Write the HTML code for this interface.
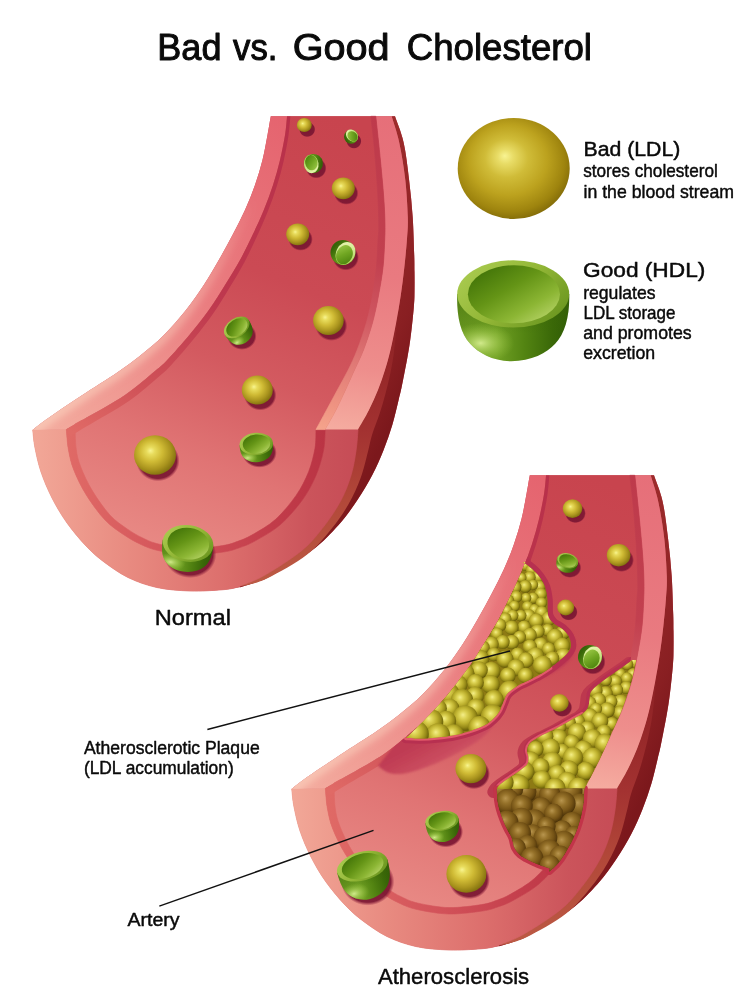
<!DOCTYPE html>
<html><head><meta charset="utf-8"><title>Bad vs. Good Cholesterol</title>
<style>html,body{margin:0;padding:0;background:#fff;}svg{display:block;}</style>
</head><body>
<svg width="749" height="999" viewBox="0 0 749 999">
<defs>
<radialGradient id="ys" cx="0.44" cy="0.43" r="0.64" fx="0.39" fy="0.39">
<stop offset="0" stop-color="#f8f490"/><stop offset="0.15" stop-color="#e8dc5c"/><stop offset="0.42" stop-color="#cfba34"/><stop offset="0.7" stop-color="#aa941e"/><stop offset="0.9" stop-color="#867410"/><stop offset="1" stop-color="#6a5a08"/>
</radialGradient>
<radialGradient id="yl" cx="0.47" cy="0.45" r="0.60" fx="0.42" fy="0.375">
<stop offset="0" stop-color="#f8f392"/><stop offset="0.12" stop-color="#e8dc66"/><stop offset="0.32" stop-color="#d0bc38"/><stop offset="0.58" stop-color="#bca21e"/><stop offset="0.82" stop-color="#9e840e"/><stop offset="1" stop-color="#786206"/>
</radialGradient>
<radialGradient id="yp" cx="0.45" cy="0.42" r="0.60" fx="0.41" fy="0.37">
<stop offset="0" stop-color="#f4ee88"/><stop offset="0.25" stop-color="#dcd252"/><stop offset="0.52" stop-color="#bdb02e"/><stop offset="0.76" stop-color="#968a18"/><stop offset="0.92" stop-color="#70660a"/><stop offset="1" stop-color="#504804"/>
</radialGradient>
<radialGradient id="bs" cx="0.45" cy="0.42" r="0.60" fx="0.41" fy="0.37">
<stop offset="0" stop-color="#b8954e"/><stop offset="0.32" stop-color="#96722a"/><stop offset="0.68" stop-color="#765416"/><stop offset="0.9" stop-color="#583c0c"/><stop offset="1" stop-color="#402a05"/>
</radialGradient>
<radialGradient id="shd" cx="0.5" cy="0.5" r="0.5">
<stop offset="0" stop-color="#74142f" stop-opacity="0.95"/><stop offset="0.86" stop-color="#7c1733" stop-opacity="0.93"/><stop offset="1" stop-color="#8a1a38" stop-opacity="0"/>
</radialGradient>
<linearGradient id="cav" x1="0.12" y1="0.1" x2="0.88" y2="0.9">
<stop offset="0" stop-color="#427408"/><stop offset="0.4" stop-color="#649416"/><stop offset="0.75" stop-color="#8cb634"/><stop offset="1" stop-color="#b2d062"/>
</linearGradient>
<linearGradient id="rim" x1="0" y1="0.2" x2="1" y2="0.8">
<stop offset="0" stop-color="#aacb50"/><stop offset="0.5" stop-color="#92b636"/><stop offset="1" stop-color="#68941e"/>
</linearGradient>
<linearGradient id="body" x1="0" y1="0" x2="1" y2="0">
<stop offset="0" stop-color="#66941e"/><stop offset="0.35" stop-color="#70a024"/><stop offset="0.6" stop-color="#538412"/><stop offset="0.85" stop-color="#3a6808"/><stop offset="1" stop-color="#305c06"/>
</linearGradient>
<radialGradient id="bodyhl" gradientUnits="userSpaceOnUse" cx="-32" cy="32" r="30">
<stop offset="0" stop-color="#d6ee90" stop-opacity="0.95"/><stop offset="0.5" stop-color="#b4d860" stop-opacity="0.5"/><stop offset="1" stop-color="#9cc840" stop-opacity="0"/>
</radialGradient>
<linearGradient id="bodysh" gradientUnits="userSpaceOnUse" x1="0" y1="-5" x2="0" y2="24">
<stop offset="0" stop-color="#3c6808" stop-opacity="0.55"/><stop offset="1" stop-color="#3c6808" stop-opacity="0"/>
</linearGradient>
<radialGradient id="bodyhl3" cx="0.21" cy="0.73" r="0.30">
<stop offset="0" stop-color="#d6ee90" stop-opacity="0.95"/><stop offset="0.5" stop-color="#b4d860" stop-opacity="0.5"/><stop offset="1" stop-color="#9cc840" stop-opacity="0"/>
</radialGradient>
<linearGradient id="bodysh2" x1="0" y1="0" x2="0" y2="0.6">
<stop offset="0" stop-color="#3c6808" stop-opacity="0.5"/><stop offset="1" stop-color="#3c6808" stop-opacity="0"/>
</linearGradient>
<g id="cup">
<path id="cupb" d="M-56,-17 C-56.5,5 -53,22 -43,33 C-35,42 -20,50.4 -2,50.4 C18,50.4 34,42 42,33 C52,22 56.5,5 56,-17 Z" fill="url(#body)"/>
<path d="M-56,-17 C-56.5,5 -53,22 -43,33 C-35,42 -20,50.4 -2,50.4 C18,50.4 34,42 42,33 C52,22 56.5,5 56,-17 Z" fill="url(#bodysh)"/>
<path d="M-56,-17 C-56.5,5 -53,22 -43,33 C-35,42 -20,50.4 -2,50.4 C18,50.4 34,42 42,33 C52,22 56.5,5 56,-17 Z" fill="url(#bodyhl)"/>
<ellipse cx="0" cy="-17" rx="56" ry="33.6" fill="url(#rim)"/>
<ellipse cx="0.7" cy="-16.8" rx="46" ry="29" fill="url(#cav)"/>
</g>
<radialGradient id="bodyhl2" gradientUnits="userSpaceOnUse" cx="-34" cy="36" r="26">
<stop offset="0" stop-color="#d6ee90" stop-opacity="0.9"/><stop offset="0.5" stop-color="#b4d860" stop-opacity="0.45"/><stop offset="1" stop-color="#9cc840" stop-opacity="0"/>
</radialGradient>
<g id="cup2">
<path d="M-56,-8 C-56.5,12 -53,27 -43,36.5 C-35,45 -20,52.5 -2,52.5 C18,52.5 34,45 42,36.5 C52,27 56.5,12 56,-8 Z" fill="url(#body)"/>
<path d="M-56,-8 C-56.5,12 -53,27 -43,36.5 C-35,45 -20,52.5 -2,52.5 C18,52.5 34,45 42,36.5 C52,27 56.5,12 56,-8 Z" fill="url(#bodyhl2)"/>
<ellipse cx="0" cy="-8.5" rx="56" ry="44" fill="url(#rim)"/>
<ellipse cx="1" cy="-10" rx="46.5" ry="36.5" fill="url(#cav)"/>
</g>
<linearGradient id="tbody" x1="0" y1="0" x2="1" y2="0.3">
<stop offset="0" stop-color="#6fa21e"/><stop offset="0.6" stop-color="#5a8f14"/><stop offset="1" stop-color="#356408"/>
</linearGradient>
<linearGradient id="trim" x1="0" y1="0" x2="0.4" y2="1">
<stop offset="0" stop-color="#a4cc4c"/><stop offset="1" stop-color="#e2f2a8"/>
</linearGradient>
<linearGradient id="tcav" x1="0" y1="0" x2="0.9" y2="1">
<stop offset="0" stop-color="#427a08"/><stop offset="0.55" stop-color="#70a622"/><stop offset="1" stop-color="#9ecb4a"/>
</linearGradient>
<g id="tcup">
<circle cx="0" cy="0" r="1" fill="url(#tbody)"/>
<ellipse cx="-0.22" cy="0.02" rx="0.76" ry="0.96" fill="url(#trim)"/>
<ellipse cx="-0.19" cy="-0.11" rx="0.645" ry="0.80" fill="url(#tcav)"/>
</g>
<filter id="blur1" x="-10%" y="-10%" width="120%" height="120%"><feGaussianBlur stdDeviation="1.3"/></filter>
<filter id="blur3" x="-10%" y="-10%" width="120%" height="120%"><feGaussianBlur stdDeviation="3"/></filter>
<linearGradient id="whl" gradientUnits="userSpaceOnUse" x1="0" y1="200" x2="0" y2="430">
<stop offset="0" stop-color="#f8c4b4" stop-opacity="0"/><stop offset="0.5" stop-color="#f8c4b4" stop-opacity="0.45"/><stop offset="1" stop-color="#f9c8b6" stop-opacity="0.85"/>
</linearGradient>
<linearGradient id="flapg" gradientUnits="userSpaceOnUse" x1="470" y1="715" x2="490" y2="752">
<stop offset="0" stop-color="#bf3b53"/><stop offset="0.5" stop-color="#c94a5d"/><stop offset="1" stop-color="#d8666e"/>
</linearGradient>
<linearGradient id="lumen" gradientUnits="userSpaceOnUse" x1="330" y1="116" x2="150" y2="570">
<stop offset="0" stop-color="#c8444e"/><stop offset="0.35" stop-color="#cb4a54"/><stop offset="0.55" stop-color="#d35a60"/><stop offset="0.75" stop-color="#e07474"/><stop offset="1" stop-color="#ea8e88"/>
</linearGradient>
<linearGradient id="lwall" gradientUnits="userSpaceOnUse" x1="280" y1="116" x2="50" y2="430">
<stop offset="0" stop-color="#e5646f"/><stop offset="0.5" stop-color="#ea7d80"/><stop offset="1" stop-color="#f3ab9e"/>
</linearGradient>
<linearGradient id="rwall" gradientUnits="userSpaceOnUse" x1="395" y1="116" x2="340" y2="430">
<stop offset="0" stop-color="#e66f79"/><stop offset="0.5" stop-color="#e97a80"/><stop offset="0.8" stop-color="#ee8e8c"/><stop offset="1" stop-color="#f5aca0"/>
</linearGradient>
<linearGradient id="lchamfer" gradientUnits="userSpaceOnUse" x1="285" y1="116" x2="70" y2="430">
<stop offset="0" stop-color="#b8304a"/><stop offset="0.5" stop-color="#be384e"/><stop offset="0.8" stop-color="#d05258"/><stop offset="1" stop-color="#e06a66"/>
</linearGradient>
<linearGradient id="chamfer" gradientUnits="userSpaceOnUse" x1="380" y1="116" x2="320" y2="430">
<stop offset="0" stop-color="#be3a4b"/><stop offset="0.45" stop-color="#c2404f"/><stop offset="0.62" stop-color="#cf5660"/><stop offset="0.78" stop-color="#e07a76"/><stop offset="0.92" stop-color="#ef9482"/><stop offset="1" stop-color="#f5a48c"/>
</linearGradient>
<linearGradient id="side" gradientUnits="userSpaceOnUse" x1="300" y1="330" x2="410" y2="380">
<stop offset="0" stop-color="#9c2b2b"/><stop offset="0.45" stop-color="#922527"/><stop offset="0.75" stop-color="#891f22"/><stop offset="1" stop-color="#7c181c"/>
</linearGradient>
<linearGradient id="strip" gradientUnits="userSpaceOnUse" x1="0" y1="320" x2="0" y2="585">
<stop offset="0" stop-color="#8e2226"/><stop offset="0.2" stop-color="#962829"/><stop offset="0.42" stop-color="#a33231"/><stop offset="0.68" stop-color="#b24839"/><stop offset="1" stop-color="#bc5a44"/>
</linearGradient>
<linearGradient id="uface" gradientUnits="userSpaceOnUse" x1="32" y1="0" x2="358" y2="0">
<stop offset="0" stop-color="#f2a898"/><stop offset="0.3" stop-color="#e88a80"/><stop offset="0.6" stop-color="#dc6e6c"/><stop offset="0.85" stop-color="#cb545b"/><stop offset="1" stop-color="#c64c56"/>
</linearGradient>
<linearGradient id="band" gradientUnits="userSpaceOnUse" x1="66" y1="0" x2="325" y2="0">
<stop offset="0" stop-color="#e06a66"/><stop offset="0.45" stop-color="#d25259"/><stop offset="0.8" stop-color="#c23c4a"/><stop offset="1" stop-color="#ba3444"/>
</linearGradient>

<clipPath id="lumc"><path d="M287.0,116.3L370.8,116.3C371.4,121.9 373.4,137.7 374.5,150.0 C375.6,162.3 376.8,177.5 377.5,190.0 C378.2,202.5 378.7,216.7 378.8,225.0 C378.9,233.3 378.4,232.9 378.0,240.0 C377.6,247.1 377.3,258.3 376.4,267.5 C375.5,276.7 374.2,285.8 372.6,295.0 C371.0,304.2 369.1,313.3 366.5,322.5 C363.9,331.7 360.2,342.1 357.2,350.0 C354.1,357.9 351.5,363.3 348.2,370.0 C344.9,376.7 341.0,383.3 337.4,390.0 C333.8,396.7 330.2,403.4 326.6,410.0 C323.0,416.6 317.8,426.3 316.0,429.6L325.2,429.6C324.9,433.0 325.1,442.4 323.6,450.0 C322.1,457.6 319.7,466.7 316.2,475.0 C312.7,483.3 308.4,491.7 302.4,500.0 C296.4,508.3 287.9,518.2 280.0,525.0 C272.1,531.8 261.7,537.2 255.0,541.0 C248.3,544.8 245.2,545.7 240.0,547.5 C234.8,549.3 231.8,550.8 223.5,552.0 C215.2,553.2 200.9,555.2 190.0,555.0 C179.1,554.8 166.3,552.3 158.0,550.5 C149.7,548.7 145.8,546.7 140.0,544.0 C134.2,541.3 129.2,538.5 123.4,534.5 C117.6,530.5 111.2,526.6 105.0,520.0 C98.8,513.4 91.5,503.3 86.3,495.0 C81.1,486.7 76.8,477.5 73.8,470.0 C70.8,462.5 69.8,456.8 68.5,450.0 C67.2,443.2 66.7,432.9 66.3,429.5C69.0,427.9 72.7,425.8 82.5,420.0 C92.3,414.2 112.9,403.2 125.0,395.0 C137.1,386.8 148.0,376.8 155.0,371.0 C162.0,365.2 161.5,366.0 167.2,360.0 C172.9,354.0 182.4,343.3 189.3,335.0 C196.2,326.7 202.9,318.3 208.8,310.0 C214.8,301.7 219.8,293.3 225.0,285.0 C230.2,276.7 235.4,268.3 240.0,260.0 C244.6,251.7 248.5,243.3 252.5,235.0 C256.5,226.7 260.4,218.3 263.8,210.0 C267.2,201.7 270.3,193.3 273.0,185.0 C275.7,176.7 278.0,168.3 280.0,160.0 C282.0,151.7 283.8,142.3 285.0,135.0 C286.2,127.7 286.7,119.4 287.0,116.3Z"/></clipPath>
<g id="artery">
<path d="M270.8,116.3L395.0,116.3C396.4,120.7 401.2,131.8 403.6,142.4 C406.0,153.0 407.6,167.4 409.1,179.9 C410.6,192.4 411.9,204.8 412.7,217.3 C413.5,229.8 413.9,245.6 414.2,254.7 C414.5,263.8 414.4,265.8 414.5,272.0 C414.6,278.2 414.6,286.1 414.5,292.0 C414.4,297.9 414.6,298.6 413.8,307.4 C413.0,316.2 411.4,332.4 409.5,344.9 C407.6,357.4 404.4,373.1 402.6,382.3 C400.8,391.5 400.3,392.9 398.6,400.0 C396.9,407.1 394.8,416.7 392.3,425.0 C389.8,433.3 386.9,441.7 383.6,450.0 C380.3,458.3 376.7,466.7 372.3,475.0 C367.9,483.3 363.0,491.7 357.4,500.0 C351.8,508.3 346.1,516.7 338.6,525.0 C331.1,533.3 323.4,541.7 312.4,550.0 C301.4,558.3 281.9,569.6 272.5,575.0 C263.1,580.4 261.4,580.2 256.0,582.3 C250.6,584.3 242.7,586.5 240.0,587.3C237.0,587.7 230.3,589.2 222.0,589.8 C213.7,590.4 200.9,591.4 190.0,591.0 C179.1,590.6 167.1,589.8 156.8,587.5 C146.5,585.2 136.8,581.8 128.0,577.5 C119.2,573.2 111.0,567.2 104.0,562.0 C97.0,556.8 92.2,552.5 86.0,546.0 C79.8,539.5 72.7,531.0 67.0,523.0 C61.3,515.0 56.3,506.5 52.0,498.0 C47.7,489.5 43.8,480.3 41.0,472.0 C38.2,463.7 36.4,455.0 35.0,448.0 C33.6,441.0 33.1,433.0 32.7,430.0C34.8,428.3 37.5,425.7 45.5,420.0 C53.5,414.3 68.9,404.0 81.0,396.0 C93.1,388.0 108.0,378.8 118.0,372.0 C128.0,365.2 133.3,361.2 141.0,355.0 C148.7,348.8 156.5,342.5 164.0,335.0 C171.5,327.5 179.4,318.3 186.0,310.0 C192.6,301.7 198.3,293.3 203.8,285.0 C209.3,276.7 214.0,268.3 218.8,260.0 C223.6,251.7 228.1,243.3 232.5,235.0 C236.9,226.7 241.2,218.3 245.0,210.0 C248.8,201.7 252.1,193.3 255.0,185.0 C257.9,176.7 260.4,168.3 262.5,160.0 C264.6,151.7 266.1,142.3 267.5,135.0 C268.9,127.7 270.2,119.4 270.8,116.3Z" fill="#c64e58"/>
<path d="M391.7,116.3C392.9,120.7 396.9,131.8 399.2,142.4 C401.5,153.0 403.9,167.4 405.3,179.9 C406.7,192.4 407.5,207.3 407.8,217.3 C408.1,227.3 407.5,231.6 406.9,240.0 C406.3,248.4 405.3,258.3 404.3,267.5 C403.3,276.7 402.2,285.8 400.8,295.0 C399.4,304.2 397.9,313.3 396.2,322.5 C394.5,331.7 392.4,342.1 390.5,350.0 C388.6,357.9 387.1,363.3 385.0,370.0 C382.9,376.7 380.7,383.3 378.0,390.0 C375.3,396.7 372.3,403.4 369.0,410.0 C365.7,416.6 359.8,426.3 358.0,429.6C357.7,433.0 357.2,442.4 356.1,450.0 C355.0,457.6 353.6,466.7 351.1,475.0 C348.6,483.3 345.5,491.7 341.1,500.0 C336.7,508.3 331.3,516.7 324.9,525.0 C318.4,533.3 312.4,541.7 302.4,550.0 C292.4,558.3 275.4,569.0 265.0,575.0 C254.6,581.0 244.2,584.2 240.0,586.0L240.0,587.3C242.7,586.5 250.6,584.3 256.0,582.3 C261.4,580.2 263.1,580.4 272.5,575.0 C281.9,569.6 301.4,558.3 312.4,550.0 C323.4,541.7 331.1,533.3 338.6,525.0 C346.1,516.7 351.8,508.3 357.4,500.0 C363.0,491.7 367.9,483.3 372.3,475.0 C376.7,466.7 380.3,458.3 383.6,450.0 C386.9,441.7 389.8,433.3 392.3,425.0 C394.8,416.7 396.9,407.1 398.6,400.0 C400.3,392.9 400.8,391.5 402.6,382.3 C404.4,373.1 407.6,357.4 409.5,344.9 C411.4,332.4 413.0,316.2 413.8,307.4 C414.6,298.6 414.4,297.9 414.5,292.0 C414.6,286.1 414.6,278.2 414.5,272.0 C414.4,265.8 414.5,263.8 414.2,254.7 C413.9,245.6 413.5,229.8 412.7,217.3 C411.9,204.8 410.6,192.4 409.1,179.9 C407.6,167.4 406.0,153.0 403.6,142.4 C401.2,131.8 396.4,120.7 395.0,116.3Z" fill="url(#side)"/>
<path d="M398.6,309.0C397.2,315.8 392.8,339.8 390.5,350.0 C388.2,360.2 387.1,363.3 385.0,370.0 C382.9,376.7 380.7,383.3 378.0,390.0 C375.3,396.7 372.3,403.4 369.0,410.0 C365.7,416.6 360.1,422.9 358.0,429.6 C355.9,436.3 357.2,442.4 356.1,450.0 C355.0,457.6 353.6,466.7 351.1,475.0 C348.6,483.3 345.5,491.7 341.1,500.0 C336.7,508.3 331.3,516.7 324.9,525.0 C318.4,533.3 312.4,541.7 302.4,550.0 C292.4,558.3 275.4,569.0 265.0,575.0 C254.6,581.0 244.2,584.2 240.0,586.0C244.5,585.6 255.9,583.9 267.0,578.5 C278.1,573.1 296.2,563.0 306.8,554.8 C317.4,546.6 323.9,538.0 330.9,529.5 C337.9,521.0 343.7,512.6 348.6,504.0 C353.6,495.4 357.4,486.8 360.6,478.0 C363.8,469.2 366.1,458.6 368.0,451.4 C369.9,444.2 370.1,441.2 372.0,435.0 C373.9,428.8 377.2,420.9 379.5,414.0 C381.8,407.1 383.7,400.4 385.5,393.5 C387.3,386.6 389.1,379.5 390.5,372.5 C391.9,365.5 392.6,362.1 394.0,351.5 C395.4,340.9 397.8,316.1 398.6,309.0Z" fill="url(#strip)"/>
<path d="M32.7,430.0L66.3,429.5C66.7,432.9 67.2,443.2 68.5,450.0 C69.8,456.8 70.8,462.5 73.8,470.0 C76.8,477.5 81.1,486.7 86.3,495.0 C91.5,503.3 98.8,513.4 105.0,520.0 C111.2,526.6 117.6,530.5 123.4,534.5 C129.2,538.5 134.2,541.3 140.0,544.0 C145.8,546.7 149.7,548.7 158.0,550.5 C166.3,552.3 179.1,554.8 190.0,555.0 C200.9,555.2 215.2,553.2 223.5,552.0 C231.8,550.8 234.8,549.3 240.0,547.5 C245.2,545.7 248.3,544.8 255.0,541.0 C261.7,537.2 272.1,531.8 280.0,525.0 C287.9,518.2 296.4,508.3 302.4,500.0 C308.4,491.7 312.7,483.3 316.2,475.0 C319.7,466.7 322.1,457.6 323.6,450.0 C325.1,442.4 324.9,433.0 325.2,429.6L358.0,429.6C357.7,433.0 357.2,442.4 356.1,450.0 C355.0,457.6 353.6,466.7 351.1,475.0 C348.6,483.3 345.5,491.7 341.1,500.0 C336.7,508.3 331.3,516.7 324.9,525.0 C318.4,533.3 312.4,541.7 302.4,550.0 C292.4,558.3 275.4,569.0 265.0,575.0 C254.6,581.0 244.2,584.2 240.0,586.0C237.0,587.7 230.3,589.2 222.0,589.8 C213.7,590.4 200.9,591.4 190.0,591.0 C179.1,590.6 167.1,589.8 156.8,587.5 C146.5,585.2 136.8,581.8 128.0,577.5 C119.2,573.2 111.0,567.2 104.0,562.0 C97.0,556.8 92.2,552.5 86.0,546.0 C79.8,539.5 72.7,531.0 67.0,523.0 C61.3,515.0 56.3,506.5 52.0,498.0 C47.7,489.5 43.8,480.3 41.0,472.0 C38.2,463.7 36.4,455.0 35.0,448.0 C33.6,441.0 33.1,433.0 32.7,430.0Z" fill="url(#uface)" stroke="url(#uface)" stroke-width="0.8"/>
<path d="M270.8,116.3C270.2,119.4 268.9,127.7 267.5,135.0 C266.1,142.3 264.6,151.7 262.5,160.0 C260.4,168.3 257.9,176.7 255.0,185.0 C252.1,193.3 248.8,201.7 245.0,210.0 C241.2,218.3 236.9,226.7 232.5,235.0 C228.1,243.3 223.6,251.7 218.8,260.0 C214.0,268.3 209.3,276.7 203.8,285.0 C198.3,293.3 192.6,301.7 186.0,310.0 C179.4,318.3 171.5,327.5 164.0,335.0 C156.5,342.5 148.7,348.8 141.0,355.0 C133.3,361.2 128.0,365.2 118.0,372.0 C108.0,378.8 93.1,388.0 81.0,396.0 C68.9,404.0 53.5,414.3 45.5,420.0 C37.5,425.7 34.8,428.3 32.7,430.0L66.3,429.5C69.0,427.9 72.7,425.8 82.5,420.0 C92.3,414.2 112.9,403.2 125.0,395.0 C137.1,386.8 148.0,376.8 155.0,371.0 C162.0,365.2 161.5,366.0 167.2,360.0 C172.9,354.0 182.4,343.3 189.3,335.0 C196.2,326.7 202.9,318.3 208.8,310.0 C214.8,301.7 219.8,293.3 225.0,285.0 C230.2,276.7 235.4,268.3 240.0,260.0 C244.6,251.7 248.5,243.3 252.5,235.0 C256.5,226.7 260.4,218.3 263.8,210.0 C267.2,201.7 270.3,193.3 273.0,185.0 C275.7,176.7 278.0,168.3 280.0,160.0 C282.0,151.7 283.8,142.3 285.0,135.0 C286.2,127.7 286.7,119.4 287.0,116.3Z" fill="url(#lwall)"/>
<clipPath id="lwc"><path d="M270.8,116.3C270.2,119.4 268.9,127.7 267.5,135.0 C266.1,142.3 264.6,151.7 262.5,160.0 C260.4,168.3 257.9,176.7 255.0,185.0 C252.1,193.3 248.8,201.7 245.0,210.0 C241.2,218.3 236.9,226.7 232.5,235.0 C228.1,243.3 223.6,251.7 218.8,260.0 C214.0,268.3 209.3,276.7 203.8,285.0 C198.3,293.3 192.6,301.7 186.0,310.0 C179.4,318.3 171.5,327.5 164.0,335.0 C156.5,342.5 148.7,348.8 141.0,355.0 C133.3,361.2 128.0,365.2 118.0,372.0 C108.0,378.8 93.1,388.0 81.0,396.0 C68.9,404.0 53.5,414.3 45.5,420.0 C37.5,425.7 34.8,428.3 32.7,430.0L66.3,429.5C69.0,427.9 72.7,425.8 82.5,420.0 C92.3,414.2 112.9,403.2 125.0,395.0 C137.1,386.8 148.0,376.8 155.0,371.0 C162.0,365.2 161.5,366.0 167.2,360.0 C172.9,354.0 182.4,343.3 189.3,335.0 C196.2,326.7 202.9,318.3 208.8,310.0 C214.8,301.7 219.8,293.3 225.0,285.0 C230.2,276.7 235.4,268.3 240.0,260.0 C244.6,251.7 248.5,243.3 252.5,235.0 C256.5,226.7 260.4,218.3 263.8,210.0 C267.2,201.7 270.3,193.3 273.0,185.0 C275.7,176.7 278.0,168.3 280.0,160.0 C282.0,151.7 283.8,142.3 285.0,135.0 C286.2,127.7 286.7,119.4 287.0,116.3Z"/></clipPath>
<g clip-path="url(#lwc)"><path d="M270.8,116.3C270.2,119.4 268.9,127.7 267.5,135.0 C266.1,142.3 264.6,151.7 262.5,160.0 C260.4,168.3 257.9,176.7 255.0,185.0 C252.1,193.3 248.8,201.7 245.0,210.0 C241.2,218.3 236.9,226.7 232.5,235.0 C228.1,243.3 223.6,251.7 218.8,260.0 C214.0,268.3 209.3,276.7 203.8,285.0 C198.3,293.3 192.6,301.7 186.0,310.0 C179.4,318.3 171.5,327.5 164.0,335.0 C156.5,342.5 148.7,348.8 141.0,355.0 C133.3,361.2 128.0,365.2 118.0,372.0 C108.0,378.8 93.1,388.0 81.0,396.0 C68.9,404.0 53.5,414.3 45.5,420.0 C37.5,425.7 34.8,428.3 32.7,430.0" fill="none" stroke="url(#whl)" stroke-width="13" filter="url(#blur3)"/></g>
<path d="M375.8,116.3C376.6,123.8 379.2,147.4 380.5,161.1 C381.8,174.8 383.1,187.9 383.8,198.6 C384.6,209.2 384.9,218.1 385.0,225.0 C385.1,231.9 385.0,232.9 384.7,240.0 C384.4,247.1 384.0,258.3 383.0,267.5 C382.0,276.7 380.3,285.8 378.6,295.0 C376.9,304.2 375.1,313.3 372.6,322.5 C370.1,331.7 366.5,342.1 363.5,350.0 C360.5,357.9 357.5,363.3 354.5,370.0 C351.5,376.7 348.6,383.3 345.5,390.0 C342.4,396.7 339.4,403.4 336.0,410.0 C332.6,416.6 327.0,426.3 325.2,429.6L358.0,429.6C359.8,426.3 365.7,416.6 369.0,410.0 C372.3,403.4 375.3,396.7 378.0,390.0 C380.7,383.3 382.9,376.7 385.0,370.0 C387.1,363.3 388.6,357.9 390.5,350.0 C392.4,342.1 394.5,331.7 396.2,322.5 C397.9,313.3 399.4,304.2 400.8,295.0 C402.2,285.8 403.3,276.7 404.3,267.5 C405.3,258.3 406.3,248.4 406.9,240.0 C407.5,231.6 408.1,227.3 407.8,217.3 C407.5,207.3 406.7,192.4 405.3,179.9 C403.9,167.4 401.5,153.0 399.2,142.4 C396.9,131.8 392.9,120.7 391.7,116.3Z" fill="url(#rwall)"/>
<path d="M287.0,116.3L370.8,116.3C371.4,121.9 373.4,137.7 374.5,150.0 C375.6,162.3 376.8,177.5 377.5,190.0 C378.2,202.5 378.7,216.7 378.8,225.0 C378.9,233.3 378.4,232.9 378.0,240.0 C377.6,247.1 377.3,258.3 376.4,267.5 C375.5,276.7 374.2,285.8 372.6,295.0 C371.0,304.2 369.1,313.3 366.5,322.5 C363.9,331.7 360.2,342.1 357.2,350.0 C354.1,357.9 351.5,363.3 348.2,370.0 C344.9,376.7 341.0,383.3 337.4,390.0 C333.8,396.7 330.2,403.4 326.6,410.0 C323.0,416.6 317.8,426.3 316.0,429.6L325.2,429.6C324.9,433.0 325.1,442.4 323.6,450.0 C322.1,457.6 319.7,466.7 316.2,475.0 C312.7,483.3 308.4,491.7 302.4,500.0 C296.4,508.3 287.9,518.2 280.0,525.0 C272.1,531.8 261.7,537.2 255.0,541.0 C248.3,544.8 245.2,545.7 240.0,547.5 C234.8,549.3 231.8,550.8 223.5,552.0 C215.2,553.2 200.9,555.2 190.0,555.0 C179.1,554.8 166.3,552.3 158.0,550.5 C149.7,548.7 145.8,546.7 140.0,544.0 C134.2,541.3 129.2,538.5 123.4,534.5 C117.6,530.5 111.2,526.6 105.0,520.0 C98.8,513.4 91.5,503.3 86.3,495.0 C81.1,486.7 76.8,477.5 73.8,470.0 C70.8,462.5 69.8,456.8 68.5,450.0 C67.2,443.2 66.7,432.9 66.3,429.5C69.0,427.9 72.7,425.8 82.5,420.0 C92.3,414.2 112.9,403.2 125.0,395.0 C137.1,386.8 148.0,376.8 155.0,371.0 C162.0,365.2 161.5,366.0 167.2,360.0 C172.9,354.0 182.4,343.3 189.3,335.0 C196.2,326.7 202.9,318.3 208.8,310.0 C214.8,301.7 219.8,293.3 225.0,285.0 C230.2,276.7 235.4,268.3 240.0,260.0 C244.6,251.7 248.5,243.3 252.5,235.0 C256.5,226.7 260.4,218.3 263.8,210.0 C267.2,201.7 270.3,193.3 273.0,185.0 C275.7,176.7 278.0,168.3 280.0,160.0 C282.0,151.7 283.8,142.3 285.0,135.0 C286.2,127.7 286.7,119.4 287.0,116.3Z" fill="url(#lumen)"/>
<path d="M66.3,429.5C66.7,432.9 67.2,443.2 68.5,450.0 C69.8,456.8 70.8,462.5 73.8,470.0 C76.8,477.5 81.1,486.7 86.3,495.0 C91.5,503.3 98.8,513.4 105.0,520.0 C111.2,526.6 117.6,530.5 123.4,534.5 C129.2,538.5 134.2,541.3 140.0,544.0 C145.8,546.7 149.7,548.7 158.0,550.5 C166.3,552.3 179.1,554.8 190.0,555.0 C200.9,555.2 215.2,553.2 223.5,552.0 C231.8,550.8 234.8,549.3 240.0,547.5 C245.2,545.7 248.3,544.8 255.0,541.0 C261.7,537.2 272.1,531.8 280.0,525.0 C287.9,518.2 296.4,508.3 302.4,500.0 C308.4,491.7 312.7,483.3 316.2,475.0 C319.7,466.7 322.1,457.6 323.6,450.0 C325.1,442.4 324.9,433.0 325.2,429.6L316.0,429.6C315.8,432.7 316.2,441.3 315.0,448.3 C313.7,455.3 311.7,463.9 308.6,471.8 C305.4,479.6 301.6,487.5 296.1,495.4 C290.5,503.4 282.7,512.9 275.3,519.6 C267.9,526.2 257.9,531.5 251.7,535.1 C245.4,538.7 242.7,539.5 237.8,541.3 C233.0,543.0 230.5,544.3 222.5,545.6 C214.6,546.8 200.7,548.8 190.1,548.6 C179.6,548.4 167.3,545.9 159.4,544.2 C151.5,542.4 148.1,540.6 142.8,538.0 C137.4,535.5 132.7,532.7 127.2,528.9 C121.8,525.1 115.9,521.5 110.1,515.2 C104.3,508.9 97.5,499.1 92.6,491.1 C87.7,483.1 83.6,474.3 80.9,467.2 C78.1,460.1 77.1,455.8 76.2,448.6 C75.2,441.4 75.2,428.1 75.0,424.0L82.5,420.0L66.3,429.5Z" fill="url(#band)" stroke="url(#band)" stroke-width="0.6"/>
<path d="M370.8,116.3C371.4,121.9 373.4,137.7 374.5,150.0 C375.6,162.3 376.8,177.5 377.5,190.0 C378.2,202.5 378.7,216.7 378.8,225.0 C378.9,233.3 378.4,232.9 378.0,240.0 C377.6,247.1 377.3,258.3 376.4,267.5 C375.5,276.7 374.2,285.8 372.6,295.0 C371.0,304.2 369.1,313.3 366.5,322.5 C363.9,331.7 360.2,342.1 357.2,350.0 C354.1,357.9 351.5,363.3 348.2,370.0 C344.9,376.7 341.0,383.3 337.4,390.0 C333.8,396.7 330.2,403.4 326.6,410.0 C323.0,416.6 317.8,426.3 316.0,429.6L325.2,429.6C327.0,426.3 332.6,416.6 336.0,410.0 C339.4,403.4 342.4,396.7 345.5,390.0 C348.6,383.3 351.5,376.7 354.5,370.0 C357.5,363.3 360.5,357.9 363.5,350.0 C366.5,342.1 370.1,331.7 372.6,322.5 C375.1,313.3 376.9,304.2 378.6,295.0 C380.3,285.8 382.0,276.7 383.0,267.5 C384.0,258.3 384.4,247.1 384.7,240.0 C385.0,232.9 385.1,231.9 385.0,225.0 C384.9,218.1 384.6,209.2 383.8,198.6 C383.1,187.9 381.8,174.8 380.5,161.1 C379.2,147.4 376.6,123.8 375.8,116.3Z" fill="url(#chamfer)" stroke="url(#chamfer)" stroke-width="0.7"/>
<g clip-path="url(#lumc)"><path d="M287.0,116.3C286.7,119.4 286.2,127.7 285.0,135.0 C283.8,142.3 282.0,151.7 280.0,160.0 C278.0,168.3 275.7,176.7 273.0,185.0 C270.3,193.3 267.2,201.7 263.8,210.0 C260.4,218.3 256.5,226.7 252.5,235.0 C248.5,243.3 244.6,251.7 240.0,260.0 C235.4,268.3 230.2,276.7 225.0,285.0 C219.8,293.3 214.8,301.7 208.8,310.0 C202.9,318.3 196.2,326.7 189.3,335.0 C182.4,343.3 172.9,354.0 167.2,360.0 C161.5,366.0 162.0,365.2 155.0,371.0 C148.0,376.8 137.1,386.8 125.0,395.0 C112.9,403.2 92.3,414.2 82.5,420.0 C72.7,425.8 69.0,427.9 66.3,429.5L70.3,436.4C73.0,434.8 76.6,432.4 86.3,426.5 C96.1,420.6 116.8,409.3 129.0,400.9 C141.2,392.5 152.2,382.3 159.3,376.2 C166.5,370.1 166.0,370.6 171.8,364.4 C177.6,358.2 187.0,347.4 193.9,338.8 C200.8,330.3 207.4,321.8 213.4,313.3 C219.3,304.8 224.3,296.3 229.5,287.8 C234.6,279.3 239.8,270.8 244.3,262.4 C248.9,253.9 252.7,245.4 256.7,237.0 C260.6,228.5 264.4,220.1 267.8,211.6 C271.1,203.2 274.2,194.7 276.8,186.2 C279.5,177.8 281.7,169.3 283.7,160.9 C285.6,152.4 287.4,143.0 288.5,135.6 C289.6,128.1 290.1,119.5 290.4,116.3Z" fill="url(#lchamfer)"/></g>
</g>
<clipPath id="lum2"><path d="M287.0,116.3L370.8,116.3C371.4,121.9 373.4,137.7 374.5,150.0 C375.6,162.3 376.8,177.5 377.5,190.0 C378.2,202.5 378.7,216.7 378.8,225.0 C378.9,233.3 378.4,232.9 378.0,240.0 C377.6,247.1 377.3,258.3 376.4,267.5 C375.5,276.7 374.2,285.8 372.6,295.0 C371.0,304.2 369.1,313.3 366.5,322.5 C363.9,331.7 360.2,342.1 357.2,350.0 C354.1,357.9 351.5,363.3 348.2,370.0 C344.9,376.7 341.0,383.3 337.4,390.0 C333.8,396.7 330.2,403.4 326.6,410.0 C323.0,416.6 317.8,426.3 316.0,429.6L325.2,429.6C324.9,433.0 325.1,442.4 323.6,450.0 C322.1,457.6 319.7,466.7 316.2,475.0 C312.7,483.3 308.4,491.7 302.4,500.0 C296.4,508.3 287.9,518.2 280.0,525.0 C272.1,531.8 261.7,537.2 255.0,541.0 C248.3,544.8 245.2,545.7 240.0,547.5 C234.8,549.3 231.8,550.8 223.5,552.0 C215.2,553.2 200.9,555.2 190.0,555.0 C179.1,554.8 166.3,552.3 158.0,550.5 C149.7,548.7 145.8,546.7 140.0,544.0 C134.2,541.3 129.2,538.5 123.4,534.5 C117.6,530.5 111.2,526.6 105.0,520.0 C98.8,513.4 91.5,503.3 86.3,495.0 C81.1,486.7 76.8,477.5 73.8,470.0 C70.8,462.5 69.8,456.8 68.5,450.0 C67.2,443.2 66.7,432.9 66.3,429.5C69.0,427.9 72.7,425.8 82.5,420.0 C92.3,414.2 112.9,403.2 125.0,395.0 C137.1,386.8 148.0,376.8 155.0,371.0 C162.0,365.2 161.5,366.0 167.2,360.0 C172.9,354.0 182.4,343.3 189.3,335.0 C196.2,326.7 202.9,318.3 208.8,310.0 C214.8,301.7 219.8,293.3 225.0,285.0 C230.2,276.7 235.4,268.3 240.0,260.0 C244.6,251.7 248.5,243.3 252.5,235.0 C256.5,226.7 260.4,218.3 263.8,210.0 C267.2,201.7 270.3,193.3 273.0,185.0 C275.7,176.7 278.0,168.3 280.0,160.0 C282.0,151.7 283.8,142.3 285.0,135.0 C286.2,127.7 286.7,119.4 287.0,116.3Z" transform="translate(259,359)"/></clipPath>
<clipPath id="lp"><path d="M523.0,562.0C524.5,563.2 529.2,566.5 532.0,569.0 C534.8,571.5 537.3,574.0 539.5,577.0 C541.7,580.0 543.7,583.2 545.0,587.0 C546.3,590.8 547.0,595.3 547.5,600.0 C548.0,604.7 547.1,611.2 548.0,615.0 C548.9,618.8 550.6,620.7 553.0,623.0 C555.4,625.3 559.6,626.7 562.3,629.0 C565.0,631.3 567.5,634.2 569.0,637.0 C570.5,639.8 571.2,643.3 571.0,646.0 C570.8,648.7 569.3,650.7 567.5,653.0 C565.7,655.3 562.9,657.5 560.0,660.0 C557.1,662.5 553.5,665.5 550.0,668.0 C546.5,670.5 543.2,672.7 539.0,675.0 C534.8,677.3 528.8,680.1 525.0,682.0 C521.2,683.9 519.4,684.4 516.4,686.4 C513.4,688.4 509.2,691.2 507.0,694.0 C504.8,696.8 504.3,700.1 503.0,703.0 C501.7,705.9 501.0,708.7 499.3,711.4 C497.6,714.1 495.4,716.7 493.0,719.0 C490.6,721.3 488.7,723.0 485.0,725.0 C481.3,727.0 475.9,729.0 470.9,730.7 C465.9,732.4 460.7,733.9 455.0,735.0 C449.3,736.1 442.6,736.9 436.8,737.5 C431.0,738.1 425.1,738.4 420.0,738.5 C414.9,738.6 408.3,738.1 406.0,738.0C408.3,735.8 414.9,729.7 419.5,725.0 C424.2,720.3 429.5,715.0 434.2,710.0 C438.8,705.0 443.2,700.0 447.4,695.0 C451.6,690.0 455.4,685.0 459.2,680.0 C463.0,675.0 466.9,670.0 470.4,665.0 C473.9,660.0 476.9,655.0 480.1,650.0 C483.3,645.0 486.4,640.0 489.4,635.0 C492.4,630.0 495.6,625.0 498.4,620.0 C501.2,615.0 503.5,610.0 506.0,605.0 C508.5,600.0 511.0,595.0 513.3,590.0 C515.7,585.0 518.1,579.7 520.1,575.0 C522.1,570.3 524.5,564.2 525.4,562.0Z"/></clipPath>
<clipPath id="rp"><path d="M632.5,660.0C630.9,661.2 626.3,664.7 623.0,667.0 C619.7,669.3 616.0,671.7 612.7,674.0 C609.4,676.3 606.0,678.7 603.0,681.0 C600.0,683.3 596.6,685.7 594.5,687.7 C592.4,689.7 591.3,691.0 590.5,693.0 C589.7,695.0 590.0,697.5 589.5,700.0 C589.0,702.5 589.0,705.7 587.7,708.0 C586.5,710.3 584.3,712.3 582.0,714.0 C579.7,715.7 578.0,716.1 574.0,718.4 C570.0,720.6 562.5,725.1 558.0,727.5 C553.5,729.9 550.4,731.3 547.0,733.0 C543.6,734.7 540.5,736.0 537.7,737.7 C534.9,739.4 531.8,741.0 530.0,743.0 C528.2,745.0 527.2,747.7 527.0,750.0 C526.8,752.3 528.4,754.7 528.5,757.0 C528.6,759.3 528.6,762.0 527.5,764.0 C526.4,766.0 524.1,767.3 522.0,769.0 C519.9,770.7 517.7,772.2 515.0,774.0 C512.3,775.8 508.7,778.1 506.0,780.0 C503.3,781.9 500.5,784.0 499.0,785.5 C497.5,787.0 497.2,788.4 496.8,789.0L584.2,789.0C585.4,786.7 589.2,779.8 591.7,775.0 C594.2,770.2 596.8,765.0 599.3,760.0 C601.7,755.0 604.0,750.0 606.3,745.0 C608.6,740.0 610.8,735.0 613.0,730.0 C615.3,725.0 617.7,720.0 619.8,715.0 C621.9,710.0 623.7,705.0 625.5,700.0 C627.3,695.0 629.0,690.0 630.4,685.0 C631.9,680.0 633.1,674.2 634.1,670.0 C635.1,665.8 635.9,661.7 636.3,660.0Z"/></clipPath>
<clipPath id="brc"><path d="M496.8,789.0C496.9,790.8 497.1,796.7 497.5,800.0 C497.9,803.3 498.4,805.7 499.3,809.0 C500.2,812.3 501.7,816.6 503.0,820.0 C504.3,823.4 505.8,826.5 507.3,829.5 C508.8,832.5 510.6,834.9 511.8,838.0 C513.0,841.1 513.1,845.2 514.5,848.0 C515.9,850.8 518.0,853.2 520.0,855.0 C522.0,856.8 523.6,857.5 526.4,859.0 C529.2,860.5 533.1,862.4 537.0,864.0 C540.9,865.6 547.8,867.8 550.0,868.5C550.0,868.9 548.1,872.6 550.0,871.0 C551.9,869.4 557.2,865.2 561.4,859.0 C565.6,852.8 571.7,842.3 575.2,834.0 C578.7,825.7 581.1,816.6 582.6,809.0 C584.1,801.4 584.0,792.0 584.3,788.6Z"/></clipPath>
</defs>
<rect width="749" height="999" fill="#fff"/>
<use href="#artery"/>
<ellipse cx="307.2" cy="129.4" rx="8.2" ry="7.8" fill="url(#shd)"/><ellipse cx="304.3" cy="125.0" rx="7.5" ry="7.1" fill="url(#ys)"/><ellipse cx="353.9" cy="141.1" rx="7.7" ry="7.7" fill="url(#shd)"/><g transform="translate(351.0,136.7) rotate(135) scale(7.000)"><use href="#tcup"/></g><ellipse cx="316.2" cy="168.2" rx="10.3" ry="10.3" fill="url(#shd)"/><g transform="translate(313.3,163.5) rotate(-8) scale(9.600)"><use href="#tcup"/></g><ellipse cx="346.2" cy="193.2" rx="12.2" ry="11.6" fill="url(#shd)"/><ellipse cx="343.3" cy="188.3" rx="11.5" ry="10.9" fill="url(#ys)"/><ellipse cx="300.6" cy="239.2" rx="12.2" ry="11.6" fill="url(#shd)"/><ellipse cx="297.7" cy="234.3" rx="11.5" ry="10.9" fill="url(#ys)"/><ellipse cx="345.8" cy="257.4" rx="13.1" ry="13.1" fill="url(#shd)"/><g transform="translate(342.9,252.5) rotate(205) scale(12.400)"><use href="#tcup"/></g><ellipse cx="331.3" cy="325.7" rx="16.0" ry="15.2" fill="url(#shd)"/><ellipse cx="328.4" cy="320.5" rx="15.3" ry="14.5" fill="url(#ys)"/><ellipse cx="241.9" cy="336.1" rx="14.7" ry="13.8" fill="url(#shd)"/><g transform="translate(239.0,331.0) rotate(-33) scale(0.250)"><path d="M-56,-17.0 C-56.5,6.4 -53,24.2 -43,35.5 C-35,45.1 -20,54.0 -2,54.0 C18,54.0 34,45.1 42,35.5 C52,24.2 56.5,6.4 56,-17.0 Z" fill="url(#body)"/><path d="M-56,-17.0 C-56.5,6.4 -53,24.2 -43,35.5 C-35,45.1 -20,54.0 -2,54.0 C18,54.0 34,45.1 42,35.5 C52,24.2 56.5,6.4 56,-17.0 Z" fill="url(#bodysh2)"/><path d="M-56,-17.0 C-56.5,6.4 -53,24.2 -43,35.5 C-35,45.1 -20,54.0 -2,54.0 C18,54.0 34,45.1 42,35.5 C52,24.2 56.5,6.4 56,-17.0 Z" fill="url(#bodyhl3)"/><ellipse cx="0" cy="-17.0" rx="56" ry="37.0" fill="url(#rim)"/><ellipse cx="0.7" cy="-16.7" rx="46" ry="31.9" fill="url(#cav)"/></g><ellipse cx="260.2" cy="395.2" rx="16.2" ry="15.3" fill="url(#shd)"/><ellipse cx="257.3" cy="390.0" rx="15.5" ry="14.6" fill="url(#ys)"/><ellipse cx="259.4" cy="452.7" rx="17.4" ry="15.0" fill="url(#shd)"/><g transform="translate(256.5,447.5) rotate(-4) scale(0.298)"><path d="M-56,-11.9 C-56.5,8.3 -53,23.7 -43,33.5 C-35,41.8 -20,49.5 -2,49.5 C18,49.5 34,41.8 42,33.5 C52,23.7 56.5,8.3 56,-11.9 Z" fill="url(#body)"/><path d="M-56,-11.9 C-56.5,8.3 -53,23.7 -43,33.5 C-35,41.8 -20,49.5 -2,49.5 C18,49.5 34,41.8 42,33.5 C52,23.7 56.5,8.3 56,-11.9 Z" fill="url(#bodysh2)"/><path d="M-56,-11.9 C-56.5,8.3 -53,23.7 -43,33.5 C-35,41.8 -20,49.5 -2,49.5 C18,49.5 34,41.8 42,33.5 C52,23.7 56.5,8.3 56,-11.9 Z" fill="url(#bodyhl3)"/><ellipse cx="0" cy="-11.9" rx="56" ry="37.5" fill="url(#rim)"/><ellipse cx="0.7" cy="-11.6" rx="46" ry="32.3" fill="url(#cav)"/></g><ellipse cx="157.9" cy="460.8" rx="21.7" ry="20.5" fill="url(#shd)"/><ellipse cx="155.0" cy="455.0" rx="21.0" ry="19.8" fill="url(#ys)"/><ellipse cx="190.2" cy="554.6" rx="26.2" ry="23.5" fill="url(#shd)"/><g transform="translate(187.3,548.5) rotate(8) scale(0.455)"><path d="M-56,-11.3 C-56.5,9.5 -53,25.2 -43,35.3 C-35,43.7 -20,51.6 -2,51.6 C18,51.6 34,43.7 42,35.3 C52,25.2 56.5,9.5 56,-11.3 Z" fill="url(#body)"/><path d="M-56,-11.3 C-56.5,9.5 -53,25.2 -43,35.3 C-35,43.7 -20,51.6 -2,51.6 C18,51.6 34,43.7 42,35.3 C52,25.2 56.5,9.5 56,-11.3 Z" fill="url(#bodysh2)"/><path d="M-56,-11.3 C-56.5,9.5 -53,25.2 -43,35.3 C-35,43.7 -20,51.6 -2,51.6 C18,51.6 34,43.7 42,35.3 C52,25.2 56.5,9.5 56,-11.3 Z" fill="url(#bodyhl3)"/><ellipse cx="0" cy="-11.3" rx="56" ry="40.3" fill="url(#rim)"/><ellipse cx="0.7" cy="-11.0" rx="46" ry="34.8" fill="url(#cav)"/></g>
<use href="#artery" transform="translate(259,359)"/>
<g clip-path="url(#lum2)">
<path d="M378.0,766.0C379.7,767.1 384.3,771.2 388.0,772.5 C391.7,773.8 395.5,774.2 400.0,774.0 C404.5,773.8 409.7,772.5 415.0,771.0 C420.3,769.5 426.2,767.3 432.0,765.0 C437.8,762.7 444.5,759.7 450.0,757.0 C455.5,754.3 460.3,751.7 465.0,749.0 C469.7,746.3 474.0,744.0 478.0,741.0 C482.0,738.0 485.7,734.7 489.0,731.0 C492.3,727.3 495.5,723.0 498.0,719.0 C500.5,715.0 502.2,710.7 504.0,707.0 C505.8,703.3 506.7,700.0 509.0,697.0 C511.3,694.0 514.5,691.2 518.0,689.0 C521.5,686.8 525.5,685.5 530.0,683.5 C534.5,681.5 540.3,679.2 545.0,677.0 C549.7,674.8 554.2,672.5 558.0,670.0 C561.8,667.5 565.3,665.0 568.0,662.0 C570.7,659.0 572.8,655.3 574.0,652.0 C575.2,648.7 575.5,645.3 575.0,642.0 C574.5,638.7 571.7,633.7 571.0,632.0L560.0,640.0L530.0,660.0L500.0,700.0L440.0,730.0L400.0,738.0Z" fill="url(#flapg)" filter="url(#blur1)"/>
<path d="M523.0,562.0C524.5,563.2 529.2,566.5 532.0,569.0 C534.8,571.5 537.3,574.0 539.5,577.0 C541.7,580.0 543.7,583.2 545.0,587.0 C546.3,590.8 547.0,595.3 547.5,600.0 C548.0,604.7 547.1,611.2 548.0,615.0 C548.9,618.8 550.6,620.7 553.0,623.0 C555.4,625.3 559.6,626.7 562.3,629.0 C565.0,631.3 567.5,634.2 569.0,637.0 C570.5,639.8 571.2,643.3 571.0,646.0 C570.8,648.7 569.3,650.7 567.5,653.0 C565.7,655.3 562.9,657.5 560.0,660.0 C557.1,662.5 553.5,665.5 550.0,668.0 C546.5,670.5 543.2,672.7 539.0,675.0 C534.8,677.3 528.8,680.1 525.0,682.0 C521.2,683.9 519.4,684.4 516.4,686.4 C513.4,688.4 509.2,691.2 507.0,694.0 C504.8,696.8 504.3,700.1 503.0,703.0 C501.7,705.9 501.0,708.7 499.3,711.4 C497.6,714.1 495.4,716.7 493.0,719.0 C490.6,721.3 488.7,723.0 485.0,725.0 C481.3,727.0 475.9,729.0 470.9,730.7 C465.9,732.4 460.7,733.9 455.0,735.0 C449.3,736.1 442.6,736.9 436.8,737.5 C431.0,738.1 425.1,738.4 420.0,738.5 C414.9,738.6 408.3,738.1 406.0,738.0C408.3,735.8 414.9,729.7 419.5,725.0 C424.2,720.3 429.5,715.0 434.2,710.0 C438.8,705.0 443.2,700.0 447.4,695.0 C451.6,690.0 455.4,685.0 459.2,680.0 C463.0,675.0 466.9,670.0 470.4,665.0 C473.9,660.0 476.9,655.0 480.1,650.0 C483.3,645.0 486.4,640.0 489.4,635.0 C492.4,630.0 495.6,625.0 498.4,620.0 C501.2,615.0 503.5,610.0 506.0,605.0 C508.5,600.0 511.0,595.0 513.3,590.0 C515.7,585.0 518.1,579.7 520.1,575.0 C522.1,570.3 524.5,564.2 525.4,562.0Z" fill="#b73050" stroke="#b73050" stroke-width="10.5" stroke-linejoin="round"/>
<path d="M550.0,668.0C548.2,669.2 543.2,672.7 539.0,675.0 C534.8,677.3 528.8,680.1 525.0,682.0 C521.2,683.9 519.4,684.4 516.4,686.4 C513.4,688.4 509.2,691.2 507.0,694.0 C504.8,696.8 504.3,700.1 503.0,703.0 C501.7,705.9 501.0,708.7 499.3,711.4 C497.6,714.1 495.4,716.7 493.0,719.0 C490.6,721.3 488.7,723.0 485.0,725.0 C481.3,727.0 475.9,729.0 470.9,730.7 C465.9,732.4 460.7,733.9 455.0,735.0 C449.3,736.1 442.6,736.9 436.8,737.5 C431.0,738.1 425.1,738.4 420.0,738.5 C414.9,738.6 408.3,738.1 406.0,738.0" fill="none" stroke="#e25a6a" stroke-width="4.5" stroke-linejoin="round" stroke-linecap="round"/>
<path d="M632.5,660.0C630.9,661.2 626.3,664.7 623.0,667.0 C619.7,669.3 616.0,671.7 612.7,674.0 C609.4,676.3 606.0,678.7 603.0,681.0 C600.0,683.3 596.6,685.7 594.5,687.7 C592.4,689.7 591.3,691.0 590.5,693.0 C589.7,695.0 590.0,697.5 589.5,700.0 C589.0,702.5 589.0,705.7 587.7,708.0 C586.5,710.3 584.3,712.3 582.0,714.0 C579.7,715.7 578.0,716.1 574.0,718.4 C570.0,720.6 562.5,725.1 558.0,727.5 C553.5,729.9 550.4,731.3 547.0,733.0 C543.6,734.7 540.5,736.0 537.7,737.7 C534.9,739.4 531.8,741.0 530.0,743.0 C528.2,745.0 527.2,747.7 527.0,750.0 C526.8,752.3 528.4,754.7 528.5,757.0 C528.6,759.3 528.6,762.0 527.5,764.0 C526.4,766.0 524.1,767.3 522.0,769.0 C519.9,770.7 517.7,772.2 515.0,774.0 C512.3,775.8 508.7,778.1 506.0,780.0 C503.3,781.9 500.5,784.0 499.0,785.5 C497.5,787.0 497.2,788.4 496.8,789.0L584.2,789.0C585.4,786.7 589.2,779.8 591.7,775.0 C594.2,770.2 596.8,765.0 599.3,760.0 C601.7,755.0 604.0,750.0 606.3,745.0 C608.6,740.0 610.8,735.0 613.0,730.0 C615.3,725.0 617.7,720.0 619.8,715.0 C621.9,710.0 623.7,705.0 625.5,700.0 C627.3,695.0 629.0,690.0 630.4,685.0 C631.9,680.0 633.1,674.2 634.1,670.0 C635.1,665.8 635.9,661.7 636.3,660.0Z" transform="translate(-3.5,3)" fill="#bd384e" stroke="#bd384e" stroke-width="12" stroke-linejoin="round"/>
<path d="M632.5,660.0C630.9,661.2 626.3,664.7 623.0,667.0 C619.7,669.3 616.0,671.7 612.7,674.0 C609.4,676.3 606.0,678.7 603.0,681.0 C600.0,683.3 596.6,685.7 594.5,687.7 C592.4,689.7 591.3,691.0 590.5,693.0 C589.7,695.0 590.0,697.5 589.5,700.0 C589.0,702.5 589.0,705.7 587.7,708.0 C586.5,710.3 584.3,712.3 582.0,714.0 C579.7,715.7 578.0,716.1 574.0,718.4 C570.0,720.6 562.5,725.1 558.0,727.5 C553.5,729.9 550.4,731.3 547.0,733.0 C543.6,734.7 540.5,736.0 537.7,737.7 C534.9,739.4 531.8,741.0 530.0,743.0 C528.2,745.0 527.2,747.7 527.0,750.0 C526.8,752.3 528.4,754.7 528.5,757.0 C528.6,759.3 528.6,762.0 527.5,764.0 C526.4,766.0 524.1,767.3 522.0,769.0 C519.9,770.7 517.7,772.2 515.0,774.0 C512.3,775.8 508.7,778.1 506.0,780.0 C503.3,781.9 500.5,784.0 499.0,785.5 C497.5,787.0 497.2,788.4 496.8,789.0L584.2,789.0C585.4,786.7 589.2,779.8 591.7,775.0 C594.2,770.2 596.8,765.0 599.3,760.0 C601.7,755.0 604.0,750.0 606.3,745.0 C608.6,740.0 610.8,735.0 613.0,730.0 C615.3,725.0 617.7,720.0 619.8,715.0 C621.9,710.0 623.7,705.0 625.5,700.0 C627.3,695.0 629.0,690.0 630.4,685.0 C631.9,680.0 633.1,674.2 634.1,670.0 C635.1,665.8 635.9,661.7 636.3,660.0Z" fill="#b73050" stroke="#b73050" stroke-width="7" stroke-linejoin="round"/>
<path d="M582.0,714.0C580.7,714.7 578.0,716.1 574.0,718.4 C570.0,720.6 562.5,725.1 558.0,727.5 C553.5,729.9 550.4,731.3 547.0,733.0 C543.6,734.7 540.5,736.0 537.7,737.7 C534.9,739.4 531.8,741.0 530.0,743.0 C528.2,745.0 527.2,747.7 527.0,750.0 C526.8,752.3 528.4,754.7 528.5,757.0 C528.6,759.3 528.6,762.0 527.5,764.0 C526.4,766.0 524.1,767.3 522.0,769.0 C519.9,770.7 517.7,772.2 515.0,774.0 C512.3,775.8 508.7,778.1 506.0,780.0 C503.3,781.9 500.5,784.0 499.0,785.5 C497.5,787.0 497.2,788.4 496.8,789.0" fill="none" stroke="#e05868" stroke-width="4" stroke-linejoin="round" stroke-linecap="round"/>
</g>
<path d="M496.8,789.0C496.9,790.8 497.1,796.7 497.5,800.0 C497.9,803.3 498.4,805.7 499.3,809.0 C500.2,812.3 501.7,816.6 503.0,820.0 C504.3,823.4 505.8,826.5 507.3,829.5 C508.8,832.5 510.6,834.9 511.8,838.0 C513.0,841.1 513.1,845.2 514.5,848.0 C515.9,850.8 518.0,853.2 520.0,855.0 C522.0,856.8 523.6,857.5 526.4,859.0 C529.2,860.5 533.1,862.4 537.0,864.0 C540.9,865.6 547.8,867.8 550.0,868.5C550.0,868.9 548.1,872.6 550.0,871.0 C551.9,869.4 557.2,865.2 561.4,859.0 C565.6,852.8 571.7,842.3 575.2,834.0 C578.7,825.7 581.1,816.6 582.6,809.0 C584.1,801.4 584.0,792.0 584.3,788.6Z" fill="#c23449" stroke="#c23449" stroke-width="7" stroke-linejoin="round"/>
<path d="M523.0,562.0C524.5,563.2 529.2,566.5 532.0,569.0 C534.8,571.5 537.3,574.0 539.5,577.0 C541.7,580.0 543.7,583.2 545.0,587.0 C546.3,590.8 547.0,595.3 547.5,600.0 C548.0,604.7 547.1,611.2 548.0,615.0 C548.9,618.8 550.6,620.7 553.0,623.0 C555.4,625.3 559.6,626.7 562.3,629.0 C565.0,631.3 567.5,634.2 569.0,637.0 C570.5,639.8 571.2,643.3 571.0,646.0 C570.8,648.7 569.3,650.7 567.5,653.0 C565.7,655.3 562.9,657.5 560.0,660.0 C557.1,662.5 553.5,665.5 550.0,668.0 C546.5,670.5 543.2,672.7 539.0,675.0 C534.8,677.3 528.8,680.1 525.0,682.0 C521.2,683.9 519.4,684.4 516.4,686.4 C513.4,688.4 509.2,691.2 507.0,694.0 C504.8,696.8 504.3,700.1 503.0,703.0 C501.7,705.9 501.0,708.7 499.3,711.4 C497.6,714.1 495.4,716.7 493.0,719.0 C490.6,721.3 488.7,723.0 485.0,725.0 C481.3,727.0 475.9,729.0 470.9,730.7 C465.9,732.4 460.7,733.9 455.0,735.0 C449.3,736.1 442.6,736.9 436.8,737.5 C431.0,738.1 425.1,738.4 420.0,738.5 C414.9,738.6 408.3,738.1 406.0,738.0C408.3,735.8 414.9,729.7 419.5,725.0 C424.2,720.3 429.5,715.0 434.2,710.0 C438.8,705.0 443.2,700.0 447.4,695.0 C451.6,690.0 455.4,685.0 459.2,680.0 C463.0,675.0 466.9,670.0 470.4,665.0 C473.9,660.0 476.9,655.0 480.1,650.0 C483.3,645.0 486.4,640.0 489.4,635.0 C492.4,630.0 495.6,625.0 498.4,620.0 C501.2,615.0 503.5,610.0 506.0,605.0 C508.5,600.0 511.0,595.0 513.3,590.0 C515.7,585.0 518.1,579.7 520.1,575.0 C522.1,570.3 524.5,564.2 525.4,562.0Z" fill="#8d7a14"/>
<g clip-path="url(#lp)"><circle cx="525.2" cy="565.4" r="5.6" fill="url(#yp)"/><circle cx="531.7" cy="569.7" r="5.9" fill="url(#yp)"/><circle cx="538.3" cy="576.8" r="6.3" fill="url(#yp)"/><circle cx="529.7" cy="577.2" r="6.0" fill="url(#yp)"/><circle cx="521.6" cy="577.8" r="4.9" fill="url(#yp)"/><circle cx="539.8" cy="586.4" r="5.9" fill="url(#yp)"/><circle cx="532.8" cy="584.8" r="5.4" fill="url(#yp)"/><circle cx="525.2" cy="586.4" r="6.4" fill="url(#yp)"/><circle cx="540.7" cy="593.9" r="6.2" fill="url(#yp)"/><circle cx="514.9" cy="587.2" r="6.5" fill="url(#yp)"/><circle cx="533.0" cy="598.1" r="5.7" fill="url(#yp)"/><circle cx="526.1" cy="597.9" r="5.2" fill="url(#yp)"/><circle cx="541.3" cy="602.7" r="5.7" fill="url(#yp)"/><circle cx="516.2" cy="596.7" r="6.1" fill="url(#yp)"/><circle cx="508.3" cy="600.4" r="5.9" fill="url(#yp)"/><circle cx="527.6" cy="606.5" r="5.6" fill="url(#yp)"/><circle cx="534.5" cy="609.7" r="5.7" fill="url(#yp)"/><circle cx="541.6" cy="612.2" r="6.3" fill="url(#yp)"/><circle cx="514.2" cy="606.1" r="5.6" fill="url(#yp)"/><circle cx="548.8" cy="618.7" r="7.2" fill="url(#yp)"/><circle cx="528.6" cy="615.7" r="6.8" fill="url(#yp)"/><circle cx="507.0" cy="610.6" r="5.6" fill="url(#yp)"/><circle cx="520.7" cy="615.6" r="5.8" fill="url(#yp)"/><circle cx="536.2" cy="620.7" r="7.4" fill="url(#yp)"/><circle cx="512.5" cy="615.6" r="5.9" fill="url(#yp)"/><circle cx="563.2" cy="632.3" r="7.2" fill="url(#yp)"/><circle cx="547.7" cy="630.1" r="6.3" fill="url(#yp)"/><circle cx="505.2" cy="618.8" r="6.3" fill="url(#yp)"/><circle cx="524.1" cy="627.0" r="6.6" fill="url(#yp)"/><circle cx="537.6" cy="631.3" r="7.0" fill="url(#yp)"/><circle cx="554.8" cy="636.8" r="8.1" fill="url(#yp)"/><circle cx="511.4" cy="627.7" r="7.2" fill="url(#yp)"/><circle cx="499.5" cy="625.0" r="6.8" fill="url(#yp)"/><circle cx="529.7" cy="634.9" r="7.1" fill="url(#yp)"/><circle cx="561.9" cy="645.7" r="8.1" fill="url(#yp)"/><circle cx="519.6" cy="637.1" r="6.4" fill="url(#yp)"/><circle cx="540.7" cy="644.6" r="7.2" fill="url(#yp)"/><circle cx="548.6" cy="649.0" r="6.7" fill="url(#yp)"/><circle cx="496.9" cy="633.7" r="6.3" fill="url(#yp)"/><circle cx="563.3" cy="655.8" r="7.9" fill="url(#yp)"/><circle cx="529.8" cy="646.4" r="7.0" fill="url(#yp)"/><circle cx="511.9" cy="642.1" r="7.2" fill="url(#yp)"/><circle cx="502.6" cy="642.0" r="7.1" fill="url(#yp)"/><circle cx="552.1" cy="658.3" r="7.1" fill="url(#yp)"/><circle cx="535.4" cy="655.8" r="8.6" fill="url(#yp)"/><circle cx="491.2" cy="644.0" r="7.6" fill="url(#yp)"/><circle cx="517.6" cy="654.7" r="7.1" fill="url(#yp)"/><circle cx="542.4" cy="665.1" r="9.6" fill="url(#yp)"/><circle cx="525.7" cy="660.2" r="7.9" fill="url(#yp)"/><circle cx="482.9" cy="647.4" r="6.8" fill="url(#yp)"/><circle cx="493.8" cy="654.4" r="6.9" fill="url(#yp)"/><circle cx="504.9" cy="659.1" r="8.6" fill="url(#yp)"/><circle cx="516.0" cy="667.7" r="8.6" fill="url(#yp)"/><circle cx="480.1" cy="659.0" r="9.2" fill="url(#yp)"/><circle cx="525.5" cy="675.5" r="7.8" fill="url(#yp)"/><circle cx="507.8" cy="675.4" r="7.9" fill="url(#yp)"/><circle cx="491.1" cy="671.0" r="9.3" fill="url(#yp)"/><circle cx="479.1" cy="670.1" r="8.8" fill="url(#yp)"/><circle cx="464.5" cy="673.2" r="10.0" fill="url(#yp)"/><circle cx="490.5" cy="684.3" r="9.3" fill="url(#yp)"/><circle cx="509.5" cy="691.5" r="10.7" fill="url(#yp)"/><circle cx="475.4" cy="682.5" r="8.5" fill="url(#yp)"/><circle cx="457.8" cy="684.7" r="9.7" fill="url(#yp)"/><circle cx="493.9" cy="699.5" r="9.7" fill="url(#yp)"/><circle cx="475.0" cy="695.6" r="9.0" fill="url(#yp)"/><circle cx="448.4" cy="693.9" r="11.1" fill="url(#yp)"/><circle cx="462.0" cy="700.2" r="11.1" fill="url(#yp)"/><circle cx="476.0" cy="707.9" r="9.4" fill="url(#yp)"/><circle cx="492.7" cy="716.5" r="11.9" fill="url(#yp)"/><circle cx="449.7" cy="708.3" r="9.6" fill="url(#yp)"/><circle cx="437.3" cy="708.6" r="9.6" fill="url(#yp)"/><circle cx="465.2" cy="718.1" r="12.7" fill="url(#yp)"/><circle cx="479.4" cy="727.2" r="11.2" fill="url(#yp)"/><circle cx="446.0" cy="720.9" r="10.2" fill="url(#yp)"/><circle cx="430.9" cy="721.7" r="12.4" fill="url(#yp)"/><circle cx="453.5" cy="735.0" r="10.7" fill="url(#yp)"/><circle cx="438.0" cy="735.3" r="12.1" fill="url(#yp)"/><circle cx="416.0" cy="733.9" r="12.8" fill="url(#yp)"/></g>
<path d="M632.5,660.0C630.9,661.2 626.3,664.7 623.0,667.0 C619.7,669.3 616.0,671.7 612.7,674.0 C609.4,676.3 606.0,678.7 603.0,681.0 C600.0,683.3 596.6,685.7 594.5,687.7 C592.4,689.7 591.3,691.0 590.5,693.0 C589.7,695.0 590.0,697.5 589.5,700.0 C589.0,702.5 589.0,705.7 587.7,708.0 C586.5,710.3 584.3,712.3 582.0,714.0 C579.7,715.7 578.0,716.1 574.0,718.4 C570.0,720.6 562.5,725.1 558.0,727.5 C553.5,729.9 550.4,731.3 547.0,733.0 C543.6,734.7 540.5,736.0 537.7,737.7 C534.9,739.4 531.8,741.0 530.0,743.0 C528.2,745.0 527.2,747.7 527.0,750.0 C526.8,752.3 528.4,754.7 528.5,757.0 C528.6,759.3 528.6,762.0 527.5,764.0 C526.4,766.0 524.1,767.3 522.0,769.0 C519.9,770.7 517.7,772.2 515.0,774.0 C512.3,775.8 508.7,778.1 506.0,780.0 C503.3,781.9 500.5,784.0 499.0,785.5 C497.5,787.0 497.2,788.4 496.8,789.0L584.2,789.0C585.4,786.7 589.2,779.8 591.7,775.0 C594.2,770.2 596.8,765.0 599.3,760.0 C601.7,755.0 604.0,750.0 606.3,745.0 C608.6,740.0 610.8,735.0 613.0,730.0 C615.3,725.0 617.7,720.0 619.8,715.0 C621.9,710.0 623.7,705.0 625.5,700.0 C627.3,695.0 629.0,690.0 630.4,685.0 C631.9,680.0 633.1,674.2 634.1,670.0 C635.1,665.8 635.9,661.7 636.3,660.0Z" fill="#8d7a14"/>
<g clip-path="url(#rp)"><circle cx="634.6" cy="662.1" r="6.3" fill="url(#yp)"/><circle cx="627.1" cy="664.2" r="6.1" fill="url(#yp)"/><circle cx="633.1" cy="674.1" r="6.0" fill="url(#yp)"/><circle cx="620.2" cy="673.7" r="5.7" fill="url(#yp)"/><circle cx="626.8" cy="678.2" r="6.0" fill="url(#yp)"/><circle cx="615.3" cy="681.4" r="6.7" fill="url(#yp)"/><circle cx="605.7" cy="680.0" r="6.2" fill="url(#yp)"/><circle cx="626.3" cy="687.6" r="6.5" fill="url(#yp)"/><circle cx="616.8" cy="690.0" r="6.3" fill="url(#yp)"/><circle cx="605.5" cy="693.4" r="7.2" fill="url(#yp)"/><circle cx="595.0" cy="690.5" r="7.6" fill="url(#yp)"/><circle cx="620.7" cy="702.5" r="8.0" fill="url(#yp)"/><circle cx="610.6" cy="701.5" r="6.8" fill="url(#yp)"/><circle cx="598.4" cy="700.2" r="7.6" fill="url(#yp)"/><circle cx="589.7" cy="702.9" r="6.7" fill="url(#yp)"/><circle cx="620.4" cy="712.8" r="7.2" fill="url(#yp)"/><circle cx="607.0" cy="710.1" r="7.9" fill="url(#yp)"/><circle cx="595.9" cy="708.9" r="6.2" fill="url(#yp)"/><circle cx="589.9" cy="716.4" r="8.1" fill="url(#yp)"/><circle cx="611.8" cy="723.7" r="6.7" fill="url(#yp)"/><circle cx="599.9" cy="720.9" r="8.4" fill="url(#yp)"/><circle cx="577.8" cy="721.1" r="7.1" fill="url(#yp)"/><circle cx="603.8" cy="731.7" r="7.3" fill="url(#yp)"/><circle cx="568.9" cy="722.2" r="6.9" fill="url(#yp)"/><circle cx="587.4" cy="728.9" r="7.9" fill="url(#yp)"/><circle cx="576.9" cy="732.0" r="9.1" fill="url(#yp)"/><circle cx="559.4" cy="726.9" r="6.9" fill="url(#yp)"/><circle cx="592.4" cy="738.5" r="9.6" fill="url(#yp)"/><circle cx="604.5" cy="743.7" r="10.1" fill="url(#yp)"/><circle cx="558.7" cy="737.9" r="8.9" fill="url(#yp)"/><circle cx="571.7" cy="742.3" r="7.8" fill="url(#yp)"/><circle cx="544.8" cy="736.2" r="8.6" fill="url(#yp)"/><circle cx="583.4" cy="749.8" r="9.3" fill="url(#yp)"/><circle cx="592.7" cy="757.9" r="10.4" fill="url(#yp)"/><circle cx="562.1" cy="751.5" r="7.8" fill="url(#yp)"/><circle cx="550.3" cy="748.1" r="9.8" fill="url(#yp)"/><circle cx="573.0" cy="757.3" r="10.2" fill="url(#yp)"/><circle cx="535.6" cy="749.0" r="8.0" fill="url(#yp)"/><circle cx="585.5" cy="771.0" r="9.2" fill="url(#yp)"/><circle cx="552.1" cy="761.4" r="9.7" fill="url(#yp)"/><circle cx="568.9" cy="769.6" r="9.4" fill="url(#yp)"/><circle cx="530.8" cy="760.3" r="9.0" fill="url(#yp)"/><circle cx="540.6" cy="766.8" r="8.8" fill="url(#yp)"/><circle cx="557.0" cy="773.6" r="8.8" fill="url(#yp)"/><circle cx="567.0" cy="781.6" r="9.9" fill="url(#yp)"/><circle cx="524.2" cy="771.6" r="10.2" fill="url(#yp)"/><circle cx="578.2" cy="787.8" r="10.3" fill="url(#yp)"/><circle cx="541.7" cy="779.5" r="9.2" fill="url(#yp)"/><circle cx="555.1" cy="788.6" r="10.6" fill="url(#yp)"/><circle cx="518.3" cy="785.5" r="11.3" fill="url(#yp)"/><circle cx="502.9" cy="782.5" r="10.7" fill="url(#yp)"/></g>
<path d="M496.8,789.0C496.9,790.8 497.1,796.7 497.5,800.0 C497.9,803.3 498.4,805.7 499.3,809.0 C500.2,812.3 501.7,816.6 503.0,820.0 C504.3,823.4 505.8,826.5 507.3,829.5 C508.8,832.5 510.6,834.9 511.8,838.0 C513.0,841.1 513.1,845.2 514.5,848.0 C515.9,850.8 518.0,853.2 520.0,855.0 C522.0,856.8 523.6,857.5 526.4,859.0 C529.2,860.5 533.1,862.4 537.0,864.0 C540.9,865.6 547.8,867.8 550.0,868.5C550.0,868.9 548.1,872.6 550.0,871.0 C551.9,869.4 557.2,865.2 561.4,859.0 C565.6,852.8 571.7,842.3 575.2,834.0 C578.7,825.7 581.1,816.6 582.6,809.0 C584.1,801.4 584.0,792.0 584.3,788.6Z" fill="#5a3f0e"/>
<g clip-path="url(#brc)"><circle cx="584.0" cy="791.4" r="11.7" fill="url(#bs)"/><circle cx="570.2" cy="790.5" r="12.3" fill="url(#bs)"/><circle cx="538.7" cy="788.9" r="11.5" fill="url(#bs)"/><circle cx="549.7" cy="794.5" r="10.7" fill="url(#bs)"/><circle cx="579.9" cy="805.9" r="12.5" fill="url(#bs)"/><circle cx="525.8" cy="791.8" r="10.6" fill="url(#bs)"/><circle cx="563.6" cy="803.6" r="12.0" fill="url(#bs)"/><circle cx="513.2" cy="789.2" r="10.0" fill="url(#bs)"/><circle cx="500.4" cy="789.9" r="12.2" fill="url(#bs)"/><circle cx="541.1" cy="807.9" r="10.6" fill="url(#bs)"/><circle cx="553.6" cy="813.1" r="9.5" fill="url(#bs)"/><circle cx="507.7" cy="801.5" r="12.5" fill="url(#bs)"/><circle cx="521.8" cy="805.8" r="10.9" fill="url(#bs)"/><circle cx="572.3" cy="822.9" r="11.0" fill="url(#bs)"/><circle cx="534.3" cy="821.0" r="11.7" fill="url(#bs)"/><circle cx="562.2" cy="829.7" r="9.5" fill="url(#bs)"/><circle cx="546.2" cy="826.0" r="9.5" fill="url(#bs)"/><circle cx="521.3" cy="819.1" r="11.4" fill="url(#bs)"/><circle cx="573.8" cy="835.4" r="9.7" fill="url(#bs)"/><circle cx="506.6" cy="822.6" r="11.9" fill="url(#bs)"/><circle cx="563.7" cy="842.9" r="12.1" fill="url(#bs)"/><circle cx="532.8" cy="833.9" r="9.7" fill="url(#bs)"/><circle cx="545.4" cy="837.8" r="11.9" fill="url(#bs)"/><circle cx="519.9" cy="833.2" r="11.1" fill="url(#bs)"/><circle cx="549.1" cy="850.9" r="11.5" fill="url(#bs)"/><circle cx="527.1" cy="845.1" r="10.1" fill="url(#bs)"/><circle cx="560.1" cy="856.2" r="10.6" fill="url(#bs)"/><circle cx="515.5" cy="848.6" r="10.6" fill="url(#bs)"/><circle cx="532.0" cy="858.0" r="11.3" fill="url(#bs)"/><circle cx="549.8" cy="865.1" r="10.2" fill="url(#bs)"/></g>
<ellipse cx="575.4" cy="513.3" rx="10.5" ry="10.0" fill="url(#shd)"/><ellipse cx="572.5" cy="508.6" rx="9.8" ry="9.3" fill="url(#ys)"/><ellipse cx="569.9" cy="567.7" rx="11.5" ry="10.2" fill="url(#shd)"/><g transform="translate(567.0,563.0) rotate(18) scale(0.193)"><path d="M-56,-12.5 C-56.5,8.3 -53,24.1 -43,34.2 C-35,42.7 -20,50.6 -2,50.6 C18,50.6 34,42.7 42,34.2 C52,24.1 56.5,8.3 56,-12.5 Z" fill="url(#body)"/><path d="M-56,-12.5 C-56.5,8.3 -53,24.1 -43,34.2 C-35,42.7 -20,50.6 -2,50.6 C18,50.6 34,42.7 42,34.2 C52,24.1 56.5,8.3 56,-12.5 Z" fill="url(#bodysh2)"/><path d="M-56,-12.5 C-56.5,8.3 -53,24.1 -43,34.2 C-35,42.7 -20,50.6 -2,50.6 C18,50.6 34,42.7 42,34.2 C52,24.1 56.5,8.3 56,-12.5 Z" fill="url(#bodyhl3)"/><ellipse cx="0" cy="-12.5" rx="56" ry="38.1" fill="url(#rim)"/><ellipse cx="0.7" cy="-12.2" rx="46" ry="32.8" fill="url(#cav)"/></g><ellipse cx="621.5" cy="560.1" rx="12.5" ry="11.9" fill="url(#shd)"/><ellipse cx="618.6" cy="555.2" rx="11.8" ry="11.2" fill="url(#ys)"/><ellipse cx="568.6" cy="612.0" rx="9.1" ry="8.6" fill="url(#shd)"/><ellipse cx="565.7" cy="607.5" rx="8.4" ry="7.9" fill="url(#ys)"/><ellipse cx="592.9" cy="661.9" rx="12.7" ry="12.7" fill="url(#shd)"/><g transform="translate(590.0,657.0) rotate(200) scale(12.000)"><use href="#tcup"/></g><ellipse cx="562.3" cy="707.5" rx="10.0" ry="9.5" fill="url(#shd)"/><ellipse cx="559.4" cy="702.9" rx="9.3" ry="8.8" fill="url(#ys)"/><ellipse cx="473.8" cy="773.9" rx="16.2" ry="15.3" fill="url(#shd)"/><ellipse cx="470.9" cy="768.6" rx="15.5" ry="14.6" fill="url(#ys)"/><ellipse cx="445.7" cy="831.8" rx="17.4" ry="15.7" fill="url(#shd)"/><g transform="translate(442.8,826.5) rotate(-8) scale(0.299)"><path d="M-56,-19.3 C-56.5,4.1 -53,21.9 -43,33.3 C-35,42.9 -20,51.8 -2,51.8 C18,51.8 34,42.9 42,33.3 C52,21.9 56.5,4.1 56,-19.3 Z" fill="url(#body)"/><path d="M-56,-19.3 C-56.5,4.1 -53,21.9 -43,33.3 C-35,42.9 -20,51.8 -2,51.8 C18,51.8 34,42.9 42,33.3 C52,21.9 56.5,4.1 56,-19.3 Z" fill="url(#bodysh2)"/><path d="M-56,-19.3 C-56.5,4.1 -53,21.9 -43,33.3 C-35,42.9 -20,51.8 -2,51.8 C18,51.8 34,42.9 42,33.3 C52,21.9 56.5,4.1 56,-19.3 Z" fill="url(#bodyhl3)"/><ellipse cx="0" cy="-19.3" rx="56" ry="32.5" fill="url(#rim)"/><ellipse cx="0.7" cy="-19.0" rx="46" ry="28.0" fill="url(#cav)"/></g><ellipse cx="469.3" cy="879.6" rx="20.7" ry="19.6" fill="url(#shd)"/><ellipse cx="466.4" cy="873.9" rx="20.0" ry="18.9" fill="url(#ys)"/><ellipse cx="367.7" cy="881.6" rx="26.7" ry="24.0" fill="url(#shd)"/><g transform="translate(364.8,875.5) rotate(-15) scale(0.464)"><path d="M-56,-20.9 C-56.5,3.1 -53,21.2 -43,32.8 C-35,42.6 -20,51.7 -2,51.7 C18,51.7 34,42.6 42,32.8 C52,21.2 56.5,3.1 56,-20.9 Z" fill="url(#body)"/><path d="M-56,-20.9 C-56.5,3.1 -53,21.2 -43,32.8 C-35,42.6 -20,51.7 -2,51.7 C18,51.7 34,42.6 42,32.8 C52,21.2 56.5,3.1 56,-20.9 Z" fill="url(#bodysh2)"/><path d="M-56,-20.9 C-56.5,3.1 -53,21.2 -43,32.8 C-35,42.6 -20,51.7 -2,51.7 C18,51.7 34,42.6 42,32.8 C52,21.2 56.5,3.1 56,-20.9 Z" fill="url(#bodyhl3)"/><ellipse cx="0" cy="-20.9" rx="56" ry="30.8" fill="url(#rim)"/><ellipse cx="0.7" cy="-20.6" rx="46" ry="26.5" fill="url(#cav)"/></g>
<ellipse cx="513.7" cy="168.4" rx="56" ry="50.5" fill="url(#yl)"/>
<g transform="translate(513.2,310.8) rotate(0) scale(1.000)"><path d="M-56,-16.9 C-56.5,5.3 -53,22.2 -43,33.0 C-35,42.1 -20,50.5 -2,50.5 C18,50.5 34,42.1 42,33.0 C52,22.2 56.5,5.3 56,-16.9 Z" fill="url(#body)"/><path d="M-56,-16.9 C-56.5,5.3 -53,22.2 -43,33.0 C-35,42.1 -20,50.5 -2,50.5 C18,50.5 34,42.1 42,33.0 C52,22.2 56.5,5.3 56,-16.9 Z" fill="url(#bodysh2)"/><path d="M-56,-16.9 C-56.5,5.3 -53,22.2 -43,33.0 C-35,42.1 -20,50.5 -2,50.5 C18,50.5 34,42.1 42,33.0 C52,22.2 56.5,5.3 56,-16.9 Z" fill="url(#bodyhl3)"/><ellipse cx="0" cy="-16.9" rx="56" ry="33.6" fill="url(#rim)"/><ellipse cx="0.7" cy="-16.6" rx="46" ry="29.0" fill="url(#cav)"/></g>
<path d="M207.4,729.4 L510,651" stroke="#111" stroke-width="1.5" fill="none"/>
<path d="M159.3,906.1 L373.5,830.4" stroke="#111" stroke-width="1.5" fill="none"/>
<g font-family="'Liberation Sans', sans-serif" fill="#0a0a0a" stroke="#0a0a0a" stroke-width="0.45" stroke-linejoin="round" opacity="0.995">
<text x="157.3" y="60.0" font-size="37.5" textLength="64.2" lengthAdjust="spacingAndGlyphs" stroke-width="1.00">Bad</text>
<text x="233.1" y="60.0" font-size="37.5" textLength="44.4" lengthAdjust="spacingAndGlyphs" stroke-width="1.00">vs.</text>
<text x="292.7" y="60.0" font-size="37.5" textLength="96.8" lengthAdjust="spacingAndGlyphs" stroke-width="1.00">Good</text>
<text x="406.7" y="60.0" font-size="37.5" textLength="185.3" lengthAdjust="spacingAndGlyphs" stroke-width="1.00">Cholesterol</text>
<text x="583.5" y="156.0" font-size="20.0" textLength="96.8" lengthAdjust="spacingAndGlyphs">Bad (LDL)</text>
<text x="583.2" y="177.4" font-size="18.4" textLength="134.6" lengthAdjust="spacingAndGlyphs">stores cholesterol</text>
<text x="583.5" y="197.7" font-size="18.4" textLength="150.5" lengthAdjust="spacingAndGlyphs">in the blood stream</text>
<text x="583.0" y="277.0" font-size="20.0" textLength="122.3" lengthAdjust="spacingAndGlyphs">Good (HDL)</text>
<text x="583.2" y="298.5" font-size="18.4" textLength="72.4" lengthAdjust="spacingAndGlyphs">regulates</text>
<text x="583.5" y="318.6" font-size="18.4" textLength="92.0" lengthAdjust="spacingAndGlyphs">LDL storage</text>
<text x="583.2" y="338.9" font-size="18.4" textLength="108.5" lengthAdjust="spacingAndGlyphs">and promotes</text>
<text x="583.2" y="359.2" font-size="18.4" textLength="72.0" lengthAdjust="spacingAndGlyphs">excretion</text>
<text x="154.8" y="625.2" font-size="22.0" textLength="76.1" lengthAdjust="spacingAndGlyphs">Normal</text>
<text x="83.9" y="754.2" font-size="18.0" textLength="175.8" lengthAdjust="spacingAndGlyphs">Atherosclerotic Plaque</text>
<text x="83.9" y="774.2" font-size="18.0" textLength="149.8" lengthAdjust="spacingAndGlyphs">(LDL accumulation)</text>
<text x="127.5" y="926.2" font-size="18.0" textLength="52.1" lengthAdjust="spacingAndGlyphs">Artery</text>
<text x="377.9" y="983.5" font-size="22.0" textLength="151.3" lengthAdjust="spacingAndGlyphs">Atherosclerosis</text>
</g>
</svg>
</body></html>
